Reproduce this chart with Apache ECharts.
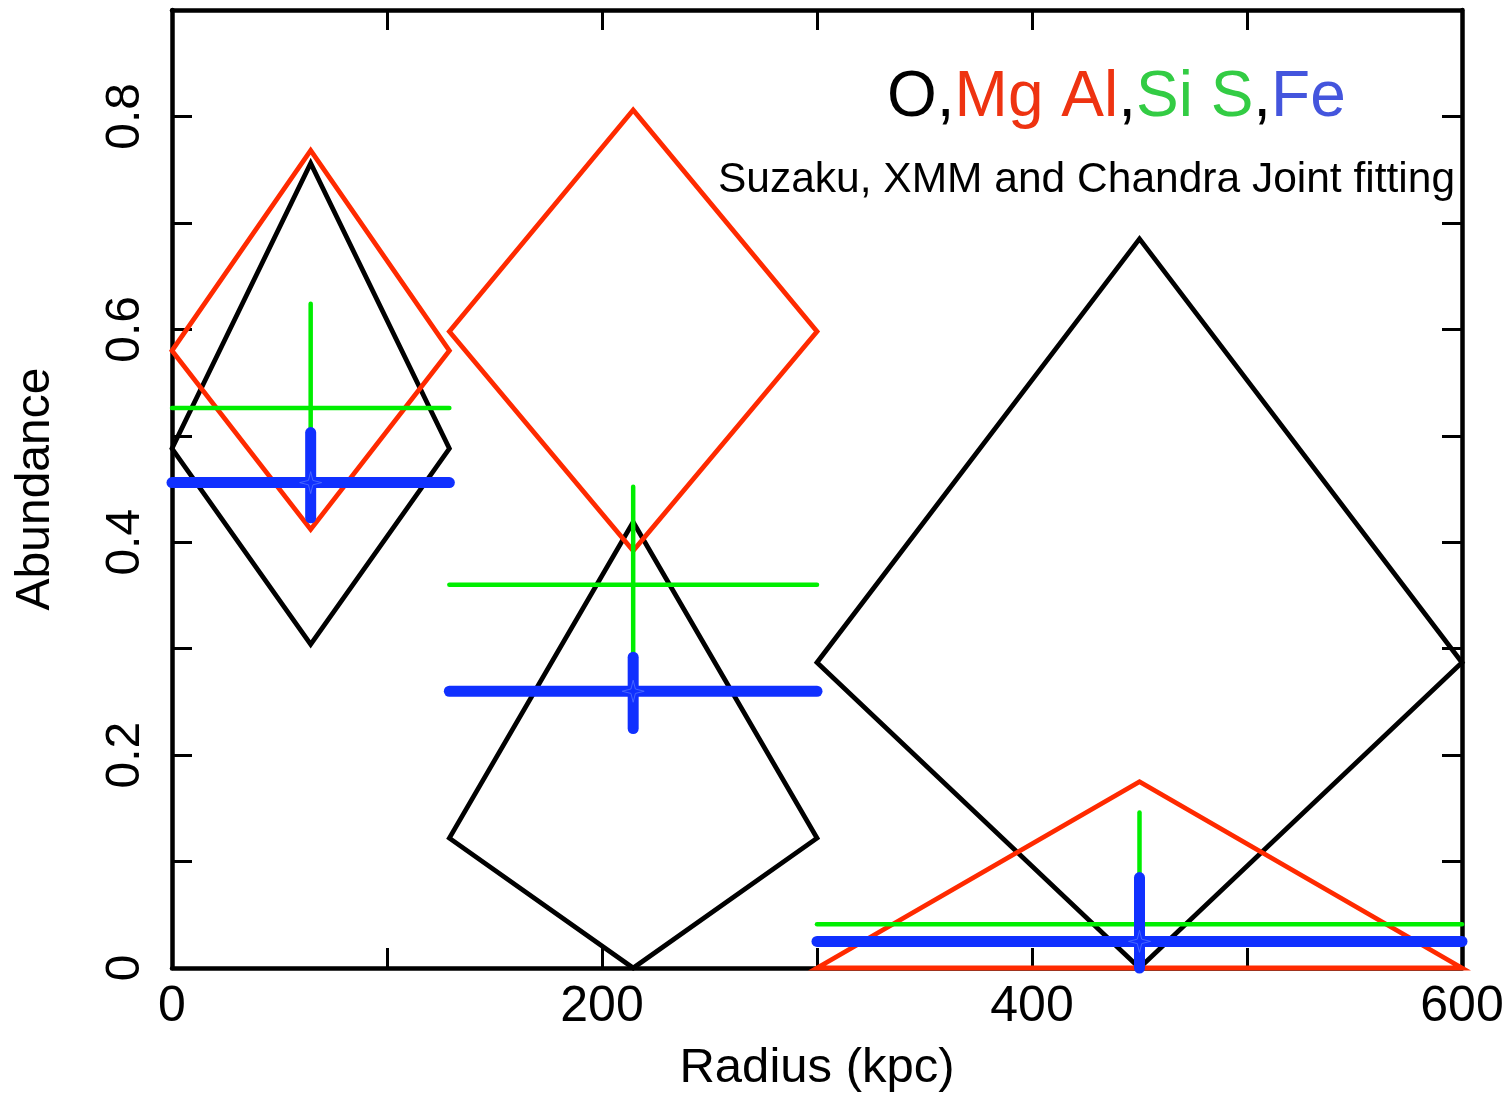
<!DOCTYPE html>
<html>
<head>
<meta charset="utf-8">
<script src="https://cdn.jsdelivr.net/npm/echarts@6/dist/echarts.min.js"></script>
<style>html,body{margin:0;padding:0;background:#fff;}#c{width:1511px;height:1095px;}</style>
</head>
<body>
<div id="c"></div>
<script>
// Radial bins (kpc)
const binLo = [0, 129, 300];
const binHi = [129, 300, 600];
const binMid = [64.5, 214.5, 450];
// O (black diamonds)
const oVal = [0.488, 0.122, 0.287];
const oLo  = [0.304, 0.0, 0.0];
const oHi  = [0.756, 0.419, 0.685];
// Mg Al (red diamonds)
const mgVal = [0.580, 0.598, 0.0];
const mgLo  = [0.412, 0.392, 0.0];
const mgHi  = [0.768, 0.806, 0.175];
// Si S (green crosses)
const siVal = [0.526, 0.360, 0.041];
const siLo  = [0.430, 0.290, 0.085];
const siHi  = [0.624, 0.452, 0.146];
// Fe (blue crosses)
const feVal = [0.456, 0.260, 0.025];
const feLo  = [0.423, 0.225, 0.0];
const feHi  = [0.503, 0.292, 0.085];
// Tick labels
const xTickLabels = [0, 200, 400, 600];
const yTickLabels = [0, 0.2, 0.4, 0.6, 0.8];

const FONT = 'Liberation Sans, Arial, Helvetica, sans-serif';

function rows(val, lo, hi) {
  return binMid.map((m, i) => [binLo[i], binHi[i], m, val[i], lo[i], hi[i]]);
}

function diamondSeries(name, val, lo, hi, color) {
  return {
    type: 'custom', name: name, clip: false, z: 3,
    data: rows(val, lo, hi),
    encode: { x: [0, 1, 2], y: [3, 4, 5] },
    renderItem: function (params, api) {
      const l = api.coord([api.value(0), api.value(3)]);
      const t = api.coord([api.value(2), api.value(5)]);
      const r = api.coord([api.value(1), api.value(3)]);
      const b = api.coord([api.value(2), api.value(4)]);
      return {
        type: 'polygon',
        shape: { points: [l, t, r, b] },
        style: { fill: 'none', stroke: color, lineWidth: 4.8, lineJoin: 'miter' }
      };
    }
  };
}

function crossSeries(name, val, lo, hi, color, width, z) {
  return {
    type: 'custom', name: name, clip: false, z: z,
    data: rows(val, lo, hi),
    encode: { x: [0, 1, 2], y: [3, 4, 5] },
    renderItem: function (params, api) {
      const a = api.coord([api.value(0), api.value(3)]);
      const c = api.coord([api.value(1), api.value(3)]);
      const top = api.coord([api.value(2), api.value(5)]);
      const bot = api.coord([api.value(2), api.value(4)]);
      const st = { stroke: color, lineWidth: width, lineCap: 'round' };
      return {
        type: 'group',
        children: [
          { type: 'line', shape: { x1: a[0], y1: a[1], x2: c[0], y2: c[1] }, style: st },
          { type: 'line', shape: { x1: top[0], y1: top[1], x2: bot[0], y2: bot[1] }, style: st }
        ]
      };
    }
  };
}

const tickStyle = { show: true, inside: true, length: 20, lineStyle: { color: '#000', width: 3 } };
const lineStyle = { show: true, onZero: false, lineStyle: { color: '#000', width: 4.5 } };

const chart = echarts.init(document.getElementById('c'), null, { renderer: 'canvas' });
chart.setOption({
  backgroundColor: '#fff',
  animation: false,
  grid: { left: 172, right: 49, top: 10, bottom: 127, containLabel: false, outerBoundsMode: 'none' },
  xAxis: [
    {
      type: 'value', position: 'bottom', min: 0, max: 600, interval: 100,
      axisLine: lineStyle, axisTick: tickStyle, splitLine: { show: false },
      axisLabel: {
        margin: 14, color: '#000', fontFamily: FONT, fontSize: 50,
        formatter: v => xTickLabels.indexOf(v) >= 0 ? String(v) : ''
      },
      name: 'Radius (kpc)', nameLocation: 'middle', nameGap: 76,
      nameTextStyle: { color: '#000', fontFamily: FONT, fontSize: 49 }
    },
    {
      type: 'value', position: 'top', min: 0, max: 600, interval: 100,
      axisLine: lineStyle, axisTick: tickStyle, splitLine: { show: false },
      axisLabel: { show: false }
    }
  ],
  yAxis: [
    {
      type: 'value', position: 'left', min: 0, max: 0.9, interval: 0.1,
      axisLine: lineStyle, axisTick: tickStyle, splitLine: { show: false },
      axisLabel: {
        margin: 22, rotate: 90, color: '#000', fontFamily: FONT, fontSize: 48,
        formatter: function (v) {
          const k = Math.round(v * 10);
          const hit = yTickLabels.find(t => Math.round(t * 10) === k);
          return hit === undefined ? '' : (k === 0 ? '0' : hit.toFixed(1));
        }
      },
      name: 'Abundance', nameLocation: 'middle', nameGap: 112, nameRotate: 90,
      nameTextStyle: { color: '#000', fontFamily: FONT, fontSize: 48 }
    },
    {
      type: 'value', position: 'right', min: 0, max: 0.9, interval: 0.1,
      axisLine: lineStyle, axisTick: tickStyle, splitLine: { show: false },
      axisLabel: { show: false }
    }
  ],
  series: [
    diamondSeries('O', oVal, oLo, oHi, '#000000'),
    diamondSeries('Mg Al', mgVal, mgLo, mgHi, '#ff2a00'),
    crossSeries('Si S', siVal, siLo, siHi, '#00ee00', 4.5, 5),
    crossSeries('Fe', feVal, feLo, feHi, '#1030ff', 11, 6),
    {
      type: 'scatter', name: 'Fe marker', z: 7,
      data: binMid.map((m, i) => [m, feVal[i]]),
      symbol: 'path://M0,-10 L2,-2 L10,0 L2,2 L0,10 L-2,2 L-10,0 L-2,-2 Z',
      symbolSize: 22,
      itemStyle: { color: 'rgba(0,0,0,0)', borderColor: '#5070ff', borderWidth: 1 }
    }
  ],
  graphic: [
    {
      type: 'text', left: 887, top: 66, z: 10,
      style: {
        text: '{k|O,}{r|Mg Al}{k|,}{g|Si S}{k|,}{b|Fe}',
        rich: {
          k: { fill: '#000000', fontSize: 64, fontFamily: FONT },
          r: { fill: '#ee3311', fontSize: 64, fontFamily: FONT },
          g: { fill: '#33cc44', fontSize: 64, fontFamily: FONT },
          b: { fill: '#4455dd', fontSize: 64, fontFamily: FONT }
        }
      }
    },
    {
      type: 'text', left: 718, top: 159, z: 10,
      style: { text: 'Suzaku, XMM and Chandra Joint fitting', fill: '#000', fontSize: 42.5, fontFamily: FONT }
    }
  ]
});
</script>
</body>
</html>
